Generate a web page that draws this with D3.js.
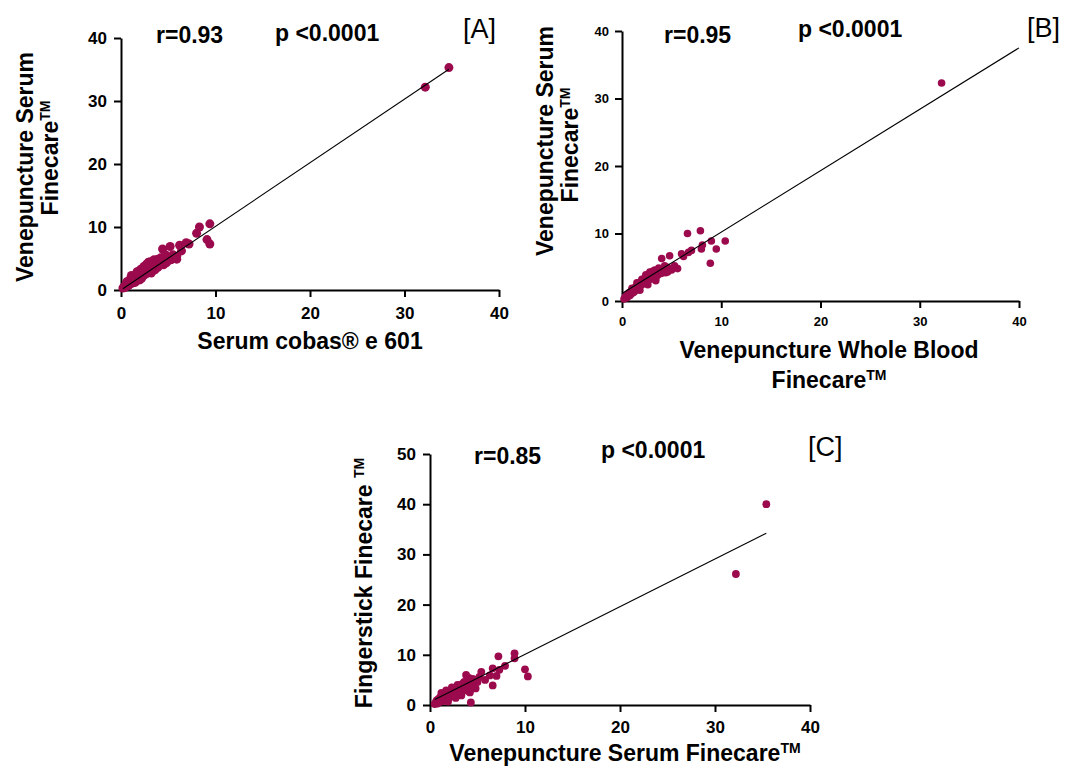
<!DOCTYPE html>
<html>
<head>
<meta charset="utf-8">
<script src="https://cdn.jsdelivr.net/npm/d3@7"></script>
<style>
  html, body { margin: 0; padding: 0; background: #fff; }
  svg { display: block; }
  text { font-family: "Liberation Sans", Arial, Helvetica, sans-serif; fill: #000; }
</style>
</head>
<body>
<svg id="chart" width="1069" height="769"></svg>
<script>
// ---------- DATA ----------
const ticksA = [0, 10, 20, 30, 40];
const ticksB = [0, 10, 20, 30, 40];
const ticksCx = [0, 10, 20, 30, 40];
const ticksCy = [0, 10, 20, 30, 40, 50];

// Panel A: x = Serum cobas e 601, y = Venepuncture Serum Finecare
const pointsA = [
  [0.2,0.3],[0.3,0.5],[0.4,0.4],[0.5,0.8],[0.6,0.6],[0.7,1.0],[0.8,1.4],[0.8,0.7],
  [0.9,1.2],[1.0,1.0],[1.0,1.8],[1.1,1.4],[1.2,2.0],[1.2,1.1],[1.3,1.6],[1.4,2.2],
  [1.5,1.4],[1.5,1.9],[1.5,1.2],[1.6,2.4],[1.7,1.7],[1.8,2.1],[1.8,2.6],[1.9,1.8],
  [2.0,2.3],[2.0,2.9],[2.1,2.0],[2.2,2.6],[2.2,1.9],[2.3,3.1],[2.3,2.2],[2.4,2.8],
  [2.5,2.4],[2.5,3.4],[2.6,3.0],[2.7,2.6],[2.8,3.6],[2.8,3.2],[2.9,2.8],[3.0,4.0],
  [3.0,3.3],[3.1,3.0],[3.2,3.8],[3.3,3.4],[3.3,4.3],[3.4,3.1],[3.5,3.7],[3.6,4.5],
  [3.6,3.2],[3.7,3.5],[3.8,4.1],[3.9,3.6],[4.0,4.6],[4.1,3.9],[4.3,4.4],[4.4,6.5],
  [4.5,4.0],[4.6,4.8],[4.8,4.3],[5.0,5.2],[5.2,6.9],[5.3,4.8],[5.5,5.6],[5.9,5.3],
  [5.9,4.9],[6.2,7.1],[6.4,6.2],[6.9,7.5],[7.2,7.3],[8.0,9.0],[8.3,10.0],[9.1,8.0],
  [9.4,10.5],[9.4,7.3],[32.2,32.2],[34.7,35.3],
  [0.6,1.3],[1.1,2.3],[1.7,2.9],[2.1,3.3],[2.4,3.7],[2.7,4.1],[3.1,4.5],[3.5,4.8],
  [2.9,4.4],[1.9,3.0],[2.6,3.9],[3.9,4.9],[4.2,5.1],[4.7,5.6],[3.2,2.7],[2.0,1.6],
  [4.9,4.6],[5.6,5.0]
];
const fitA = { slope: 1.01, intercept: 0.0, x0: 0.2, x1: 34.7 };

// Panel B: x = Venepuncture Whole Blood Finecare, y = Venepuncture Serum Finecare
const pointsB = [
  [0.2,0.3],[0.3,0.5],[0.4,0.8],[0.5,0.5],[0.6,0.9],[0.7,1.2],[0.8,0.8],[0.9,1.4],
  [1.0,1.1],[1.1,1.7],[1.2,1.3],[1.3,2.0],[1.4,1.6],[1.5,2.3],[1.6,1.8],[1.7,2.6],
  [1.8,2.1],[1.9,2.9],[2.0,2.4],[2.1,3.1],[2.2,2.6],[2.3,3.4],[2.4,2.8],[2.5,3.6],
  [2.6,3.0],[2.7,3.9],[2.8,3.2],[2.9,4.1],[3.0,3.4],[3.1,4.4],[3.2,3.6],[3.3,4.0],
  [3.4,3.3],[3.5,4.2],[3.6,3.8],[3.8,4.5],[4.0,6.3],[4.0,4.1],[4.2,4.6],[4.4,4.2],
  [4.6,5.0],[4.8,6.7],[5.0,4.6],[5.3,5.2],[5.6,4.8],[6.0,7.0],[6.2,6.6],[6.6,10.0],
  [6.7,7.2],[7.0,7.5],[7.9,10.4],[8.0,7.7],[8.1,8.3],[8.9,5.6],[9.0,8.9],[9.5,7.7],
  [10.4,8.9],[32.2,32.3],
  [1.0,1.9],[1.5,2.7],[2.0,3.2],[2.4,3.9],[2.8,4.3],[3.3,4.6],[3.7,4.9],[4.3,5.2],
  [1.8,1.6],[2.6,2.4],[3.4,3.0],[4.6,4.3],[5.2,4.9]
];
const fitB = { slope: 0.91, intercept: 1.1, x0: 0.0, x1: 40 };

// Panel C: x = Venepuncture Serum Finecare, y = Fingerstick Finecare
const pointsC = [
  [0.5,0.2],[0.6,0.5],[0.7,0.9],[0.8,0.3],[0.9,1.2],[1.0,0.6],[1.1,1.6],[1.2,1.0],
  [1.3,2.0],[1.4,0.8],[1.5,1.4],[1.6,2.3],[1.7,1.1],[1.8,1.8],[1.9,2.7],[2.0,1.5],
  [2.1,2.2],[2.2,3.0],[2.3,1.8],[2.4,2.5],[2.5,3.3],[2.6,2.0],[2.7,2.8],[2.8,3.6],
  [2.9,2.3],[3.0,3.1],[3.1,3.9],[3.2,2.6],[3.3,3.4],[3.4,4.2],[3.5,2.9],[3.6,3.6],
  [3.8,6.0],[3.9,3.2],[4.0,4.0],[4.1,5.4],[4.2,2.5],[4.3,0.5],[4.4,4.4],[4.6,3.6],
  [5.0,4.6],[5.4,6.6],[5.8,5.0],[6.3,5.9],[6.6,3.9],[6.6,7.3],[7.0,5.8],[7.2,9.7],
  [7.3,7.0],[7.9,7.8],[8.9,10.3],[8.9,9.3],[10.0,7.1],[10.3,5.7],[32.2,26.1],[35.4,40.0],
  [1.2,2.4],[1.7,2.9],[2.3,3.5],[2.9,4.0],[3.6,4.6],[1.9,0.7],[2.7,1.4],[3.3,1.9],
  [4.0,2.8],[4.8,3.3],[4.5,5.2],[5.2,5.6]
];
const fitC = { slope: 0.95, intercept: 0.6, x0: 0.5, x1: 35.4 };

const statsA = { r: "r=0.93", p: "p <0.0001", tag: "[A]" };
const statsB = { r: "r=0.95", p: "p <0.0001", tag: "[B]" };
const statsC = { r: "r=0.85", p: "p <0.0001", tag: "[C]" };

// ---------- DRAW ----------
const svg = d3.select("#chart");
svg.append("rect").attr("width", 1069).attr("height", 769).attr("fill", "#fff");
const dotColor = "#9c0a4e";

function panel(cfg) {
  const g = svg.append("g");
  const x = d3.scaleLinear().domain(cfg.xDomain).range(cfg.xRange);
  const y = d3.scaleLinear().domain(cfg.yDomain).range(cfg.yRange);

  const xAxis = d3.axisBottom(x).tickValues(cfg.xTicks).tickSize(7).tickSizeOuter(0).tickPadding(cfg.xPad);
  const yAxis = d3.axisLeft(y).tickValues(cfg.yTicks).tickSize(7).tickSizeOuter(0).tickPadding(cfg.yPad);

  const gx = g.append("g").attr("transform", `translate(0,${cfg.yRange[0]})`).call(xAxis);
  const gy = g.append("g").attr("transform", `translate(${cfg.xRange[0]},0)`).call(yAxis);
  [gx, gy].forEach(a => {
    a.selectAll("path.domain").attr("stroke", "#000").attr("stroke-width", 2);
    a.selectAll(".tick line").attr("stroke", "#000").attr("stroke-width", 2);
    a.selectAll(".tick text")
      .attr("fill", "#000")
      .style("font-family", '"Liberation Sans", Arial, sans-serif')
      .style("font-weight", "bold")
      .style("font-size", cfg.tickFont + "px");
  });

  g.append("g").selectAll("circle").data(cfg.points).join("circle")
    .attr("cx", d => x(d[0])).attr("cy", d => y(d[1]))
    .attr("r", cfg.r).attr("fill", dotColor);

  const f = cfg.fit;
  g.append("line")
    .attr("x1", x(f.x0)).attr("y1", y(f.slope * f.x0 + f.intercept))
    .attr("x2", x(f.x1)).attr("y2", y(f.slope * f.x1 + f.intercept))
    .attr("stroke", "#000").attr("stroke-width", 1.1);

  // stats
  g.append("text").attr("x", cfg.rPos[0]).attr("y", cfg.rPos[1])
    .style("font-weight", "bold").style("font-size", "23px").text(cfg.stats.r);
  g.append("text").attr("x", cfg.pPos[0]).attr("y", cfg.pPos[1])
    .style("font-weight", "bold").style("font-size", "23px").text(cfg.stats.p);
  g.append("text").attr("x", cfg.tagPos[0]).attr("y", cfg.tagPos[1])
    .style("font-size", "27px").text(cfg.stats.tag);
  return g;
}

function titleText(parent, x, y, parts, size, rotate) {
  const t = parent.append("text")
    .attr("text-anchor", "middle")
    .style("font-weight", "bold").style("font-size", size + "px");
  if (rotate) t.attr("transform", `translate(${x},${y}) rotate(-90)`);
  else t.attr("x", x).attr("y", y);
  parts.forEach(p => {
    const s = t.append("tspan").text(p.t);
    if (p.sup) s.attr("baseline-shift", "super").style("font-size", Math.round(size * 0.62) + "px");
  });
  return t;
}

const A = panel({
  xDomain: [0, 40], yDomain: [0, 40], xRange: [121, 499], yRange: [290, 38],
  xTicks: ticksA, yTicks: ticksA, tickFont: 17, xPad: 10, yPad: 7,
  points: pointsA, r: 4.5, fit: fitA, stats: statsA,
  rPos: [156, 43], pPos: [275, 41], tagPos: [463, 38]
});
titleText(A, 310, 349, [{t: "Serum cobas® e 601"}], 23, false);
titleText(A, 33, 167, [{t: "Venepuncture Serum"}], 23, true);
titleText(A, 58, 158, [{t: "Finecare"}, {t: "TM", sup: true}], 23, true);

const B = panel({
  xDomain: [0, 40], yDomain: [0, 40], xRange: [622, 1019], yRange: [301, 31],
  xTicks: ticksB, yTicks: ticksB, tickFont: 13, xPad: 9, yPad: 6,
  points: pointsB, r: 3.8, fit: fitB, stats: statsB,
  rPos: [664, 43], pPos: [798, 37], tagPos: [1027, 37]
});
titleText(B, 829, 358, [{t: "Venepuncture Whole Blood"}], 23, false);
titleText(B, 829, 388, [{t: "Finecare"}, {t: "TM", sup: true}], 23, false);
titleText(B, 553, 141, [{t: "Venepuncture Serum"}], 23, true);
titleText(B, 578, 145, [{t: "Finecare"}, {t: "TM", sup: true}], 23, true);

const C = panel({
  xDomain: [0, 40], yDomain: [0, 50], xRange: [430, 810], yRange: [705, 454],
  xTicks: ticksCx, yTicks: ticksCy, tickFont: 17, xPad: 9, yPad: 7,
  points: pointsC, r: 3.9, fit: fitC, stats: statsC,
  rPos: [474, 464], pPos: [601, 458], tagPos: [808, 456]
});
titleText(C, 625, 761, [{t: "Venepuncture Serum Finecare"}, {t: "TM", sup: true}], 23, false);
titleText(C, 372, 583, [{t: "Fingerstick Finecare "}, {t: "TM", sup: true}], 23, true);
</script>
</body>
</html>
